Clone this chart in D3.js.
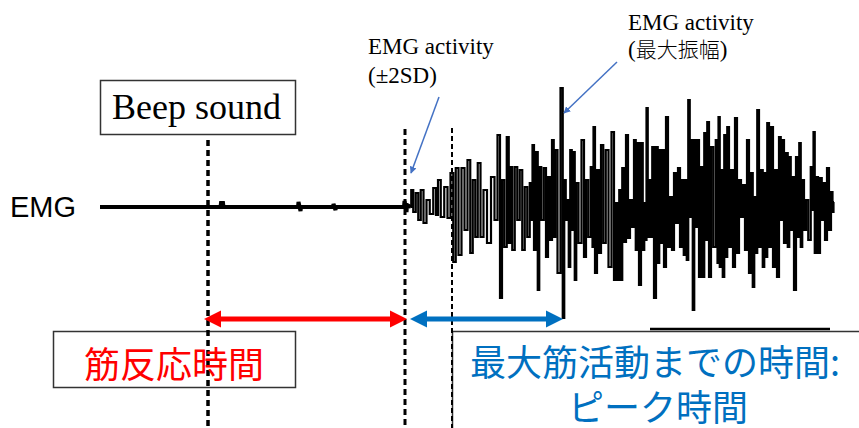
<!DOCTYPE html>
<html>
<head>
<meta charset="utf-8">
<script src="https://cdn.jsdelivr.net/npm/d3@7"></script>
<style>
body{margin:0;background:#fff}
svg{display:block}
</style>
</head>
<body>
<script>
// times are ms from the beep, amplitudes in mV
var markerTimes = [0, 394, 488, 708]   // beep, onset (±2SD), 2nd dashed line, max amplitude

// resting baseline with a few small blips
var restTime  = [-216, 25, 26, 30, 31, 180, 181, 185, 186, 250, 251, 255, 256, 392, 393, 397, 398]
var restValue = [0, 0, 0.04, 0.04, 0, 0, 0.05, -0.04, 0, 0, 0.03, -0.03, 0, 0, 0.06, -0.05, 0.02]

// burst: one up / down excursion per column
var burstTime = [408,418,428,440,454,462,476,488,498,510,
  522,532,542,554,570,582,590,600,
  606,616,626,636,646,650,658,664,674,682,
  690,696,708,714,720,726,732,738,750,758,
  768,772,780,788,798,810,
  818,824,830,838,846,854,860,868,874,878,
  884,890,898,904,910,918,926,934,942,950,
  956,962,968,974,980,988,994,1000,1008,1018,
  1022,1028,1034,1040,1048,1056,1064,1072,1080,1088,
  1094,1100,1108,1114,1120,1128,1136,1144,1150,1158,
  1164,1170,1178,1184,1190,1198,1208,1212,1218,1226,
  1232,1240,1248]
var burstHigh = [0.17,0.14,0.17,0.07,0.19,0.27,0.20,0.34,0.39,0.39,
  0.47,0.27,0.44,0.17,0.30,0.72,0.27,0.70,
  0.40,0.40,0.37,0.20,0.24,0.62,0.55,0.40,0.39,0.30,
  0.67,0.57,1.19,0.27,0.07,0.57,0.55,0.24,0.67,0.27,
  0.40,0.80,0.37,0.62,0.57,0.75,
  0.04,0.17,0.39,0.72,0.07,0.67,0.64,0.64,0.04,0.99,
  0.27,0.60,0.60,0.57,0.57,0.90,0.10,0.34,0.39,0.27,
  0.27,1.07,0.67,0.67,0.67,0.40,0.74,0.85,0.60,0.67,
  0.90,0.37,0.72,0.80,0.37,0.89,0.27,0.22,0.67,0.34,
  0.10,0.97,0.37,0.34,0.84,0.80,0.37,0.70,0.67,0.54,
  0.50,0.30,0.50,0.64,0.27,0.07,0.40,0.75,0.30,0.29,
  0.24,0.39,0.15]
var burstLow = [-0.05,-0.13,-0.16,-0.07,-0.08,-0.10,-0.11,-0.55,-0.48,-0.23,
  -0.46,-0.30,-0.30,-0.36,-0.13,-0.91,-0.40,-0.36,
  -0.43,-0.13,-0.43,-0.30,-0.13,-0.43,-0.83,-0.13,-0.50,-0.33,
  -0.30,-0.66,-1.11,-0.13,-0.60,-0.23,-0.73,-0.36,-0.50,-0.30,
  -0.40,-0.66,-0.46,-0.36,-0.60,-0.73,
  -0.73,-0.73,-0.35,-0.31,-0.20,-0.43,-0.78,-0.43,-0.33,-0.30,
  -0.30,-0.91,-0.56,-0.36,-0.60,-0.40,-0.43,-0.16,-0.40,-0.48,
  -0.53,-0.10,-1.03,-0.20,-0.70,-0.70,-0.33,-0.70,-0.40,-0.56,
  -0.60,-0.70,-0.50,-0.40,-0.60,-0.46,-0.10,-0.43,-0.66,-0.80,
  -0.46,-0.40,-0.60,-0.50,-0.40,-0.60,-0.70,-0.13,-0.36,-0.40,
  -0.23,-0.83,-0.30,-0.40,-0.23,-0.33,-0.03,-0.46,-0.46,-0.13,
  -0.33,-0.23,-0.05]

// bit of the next trace that shows at the bottom right
var lowerTime  = [884, 1244]
var lowerValue = [-1.22, -1.22]

var W = 859, H = 428
var svg = d3.select('body').append('svg')
  .attr('width', W).attr('height', H)
  .attr('xmlns', 'http://www.w3.org/2000/svg')

var x = d3.scaleLinear().domain([-216, 1250]).range([100, 833])
var y = d3.scaleLinear().domain([-1.5, 1.5]).range([357, 57])

var blue = '#0070c0', red = '#ff0000', noteBlue = '#4472c4'
var serif = '"Liberation Serif","Times New Roman",serif'
var jp = '"Noto Sans CJK JP","Noto Sans",sans-serif'

svg.append('defs').append('marker')
  .attr('id', 'tip').attr('viewBox', '0 0 10 10')
  .attr('refX', 9).attr('refY', 5)
  .attr('markerWidth', 7).attr('markerHeight', 7)
  .attr('markerUnits', 'userSpaceOnUse')
  .attr('orient', 'auto')
  .append('path').attr('d', 'M0,0L10,5L0,10z').attr('fill', noteBlue)

// boxes
svg.append('rect').attr('x', 100.5).attr('y', 80.5).attr('width', 195).attr('height', 54)
  .attr('fill', '#fff').attr('stroke', '#333').attr('stroke-width', 1.5)
svg.append('rect').attr('x', 53.5).attr('y', 331.5).attr('width', 242).attr('height', 56)
  .attr('fill', '#fff').attr('stroke', '#333').attr('stroke-width', 1.5)
svg.append('rect').attr('x', 452.5).attr('y', 331.5).attr('width', 420).attr('height', 120)
  .attr('fill', '#fff').attr('stroke', '#333').attr('stroke-width', 1.5)

// dashed vertical markers
var dashTop = [140, 129, 128]
var dashStyle = [[3.5, '6,4'], [3, '6,4'], [2, '5,3']]
markerTimes.slice(0, 3).forEach(function(t, i){
  svg.append('line')
    .attr('x1', x(t)).attr('x2', x(t))
    .attr('y1', dashTop[i]).attr('y2', H)
    .attr('stroke', '#000')
    .attr('stroke-width', dashStyle[i][0])
    .attr('stroke-dasharray', dashStyle[i][1])
})

// EMG traces
var line = d3.line().x(function(d){ return x(d[0]) }).y(function(d){ return y(d[1]) })
var rest = restTime.map(function(t, i){ return [t, restValue[i]] })
rest.push([burstTime[0] - 2, 0])
svg.append('path').attr('d', line(rest))
  .attr('fill', 'none').attr('stroke', '#000').attr('stroke-width', 4)

// up at each column time, down halfway to the next column
var burst = [[burstTime[0] - 3, 0]]
burstTime.forEach(function(t, i){
  var next = i < burstTime.length - 1 ? burstTime[i + 1] : t + 4
  burst.push([t, burstHigh[i]])
  burst.push([(t + next) / 2, burstLow[i]])
})
burst.push([burstTime[burstTime.length - 1] + 4, 0.05])
var stepLine = d3.line().curve(d3.curveStep)
  .x(function(d){ return x(d[0]) }).y(function(d){ return y(d[1]) })
svg.append('path').attr('d', stepLine(burst))
  .attr('fill', 'none').attr('stroke', '#000').attr('stroke-width', 2.2)

svg.append('path')
  .attr('d', line(lowerTime.map(function(t, i){ return [t, lowerValue[i]] })))
  .attr('fill', 'none').attr('stroke', '#000').attr('stroke-width', 2.5)

// double arrows
function doubleArrow(x1, x2, yy, col){
  var hl = 17, hw = 8.5
  svg.append('line').attr('x1', x1 + hl - 2).attr('x2', x2 - hl + 2)
    .attr('y1', yy).attr('y2', yy).attr('stroke', col).attr('stroke-width', 5)
  svg.append('path')
    .attr('d', 'M' + x1 + ',' + yy + 'L' + (x1 + hl) + ',' + (yy - hw) + 'L' + (x1 + hl) + ',' + (yy + hw) + 'Z')
    .attr('fill', col)
  svg.append('path')
    .attr('d', 'M' + x2 + ',' + yy + 'L' + (x2 - hl) + ',' + (yy - hw) + 'L' + (x2 - hl) + ',' + (yy + hw) + 'Z')
    .attr('fill', col)
}
doubleArrow(x(markerTimes[0]) - 4, x(markerTimes[1]) + 2, 319, red)
doubleArrow(x(markerTimes[1]) + 5, x(markerTimes[3]) + 1, 319, blue)

// texts
svg.append('text').attr('x', 10).attr('y', 217)
  .style('font-family', '"Liberation Sans",Arial,sans-serif').style('font-size', '29px')
  .text('EMG')
svg.append('text').attr('x', 112).attr('y', 119)
  .style('font-family', serif).style('font-size', '36px')
  .text('Beep sound')

svg.append('text').attr('x', 368).attr('y', 54)
  .style('font-family', serif).style('font-size', '23px').text('EMG activity')
svg.append('text').attr('x', 368).attr('y', 83)
  .style('font-family', serif).style('font-size', '23px').text('(±2SD)')
svg.append('text').attr('x', 628).attr('y', 30)
  .style('font-family', serif).style('font-size', '23px').text('EMG activity')
var amp = svg.append('text').attr('x', 628).attr('y', 57)
  .style('font-family', serif).style('font-size', '23px')
amp.append('tspan').text('(')
amp.append('tspan').style('font-family', jp).style('font-size', '21px').style('font-weight', 300).text('最大振幅')
amp.append('tspan').text(')')

svg.append('line').attr('x1', 439).attr('y1', 97).attr('x2', 411).attr('y2', 173)
  .attr('stroke', noteBlue).attr('stroke-width', 1.5).attr('marker-end', 'url(#tip)')
svg.append('line').attr('x1', 617).attr('y1', 62).attr('x2', 564).attr('y2', 113)
  .attr('stroke', noteBlue).attr('stroke-width', 1.5).attr('marker-end', 'url(#tip)')

svg.append('text').attr('x', 174).attr('y', 362)
  .attr('text-anchor', 'middle').attr('dominant-baseline', 'central')
  .style('font-family', jp).style('font-size', '36px').attr('fill', red)
  .text('筋反応時間')
svg.append('text').attr('x', 470).attr('y', 360)
  .attr('dominant-baseline', 'central')
  .style('font-family', jp).style('font-size', '36px').attr('fill', blue)
  .text('最大筋活動までの時間:')
svg.append('text').attr('x', 568).attr('y', 405)
  .attr('dominant-baseline', 'central')
  .style('font-family', jp).style('font-size', '36px').attr('fill', blue)
  .text('ピーク時間')
</script>
</body>
</html>
